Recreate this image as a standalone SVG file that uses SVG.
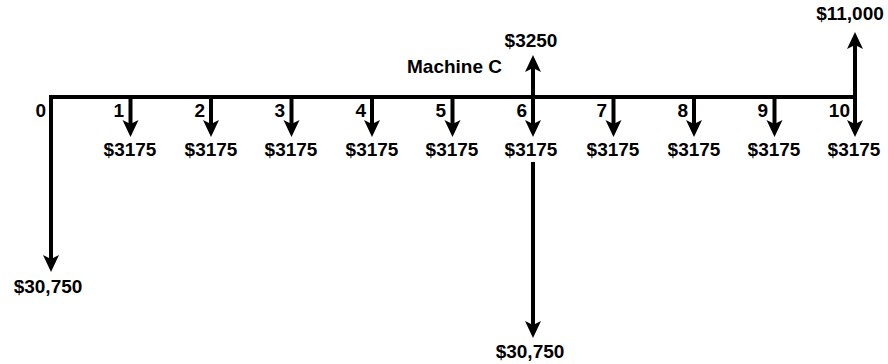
<svg xmlns="http://www.w3.org/2000/svg" width="888" height="364" viewBox="0 0 888 364">
<style>
.ln{stroke:#000;stroke-width:4;fill:none}
.ar{stroke:#000;stroke-width:4;fill:none;marker-end:url(#ah)}
text{font-family:"Liberation Sans",Arial,sans-serif;font-weight:bold;font-size:19px;fill:#000}
.m{text-anchor:middle}
.e{text-anchor:end}
</style>
<defs>
<marker id="ah" markerUnits="userSpaceOnUse" markerWidth="20" markerHeight="20" viewBox="0 0 20 20" refX="7" refY="9" orient="auto">
<path d="M0,1 L17,9 L0,17 L4,9 z" fill="#000"/>
</marker>
</defs>
<g id="connectors">
<path class="ln" d="M49,97 H857"/>
<path class="ar" d="M51,97 V262"/>
<path class="ar" d="M130.5,97 V127"/>
<path class="ar" d="M211,97 V127"/>
<path class="ar" d="M291.5,97 V127"/>
<path class="ar" d="M372,97 V127"/>
<path class="ar" d="M452.5,97 V127"/>
<path class="ar" d="M533,97 V127"/>
<path class="ar" d="M613.5,97 V127"/>
<path class="ar" d="M694,97 V127"/>
<path class="ar" d="M774.5,97 V127"/>
<path class="ar" d="M855,97 V127"/>
<path class="ar" d="M533,97 V65"/>
<path class="ar" d="M855,99 V42"/>
<path class="ar" d="M533,162 V328"/>
</g>
<g id="title"><text x="407" y="73">Machine C</text></g>
<g id="p0"><text class="e" x="46" y="117">0</text><text class="m" x="48" y="293">$30,750</text></g>
<g id="p1"><text class="e" x="124" y="117">1</text><text class="m" x="130" y="156">$3175</text></g>
<g id="p2"><text class="e" x="205" y="117">2</text><text class="m" x="211" y="156">$3175</text></g>
<g id="p3"><text class="e" x="285" y="117">3</text><text class="m" x="291" y="156">$3175</text></g>
<g id="p4"><text class="e" x="366" y="117">4</text><text class="m" x="372" y="156">$3175</text></g>
<g id="p5"><text class="e" x="446" y="117">5</text><text class="m" x="452" y="156">$3175</text></g>
<g id="p6"><text class="e" x="527" y="117">6</text><text class="m" x="531" y="156">$3175</text><text class="m" x="531" y="47">$3250</text><text class="m" x="530" y="358">$30,750</text></g>
<g id="p7"><text class="e" x="607" y="117">7</text><text class="m" x="613" y="156">$3175</text></g>
<g id="p8"><text class="e" x="688" y="117">8</text><text class="m" x="694" y="156">$3175</text></g>
<g id="p9"><text class="e" x="768" y="117">9</text><text class="m" x="774" y="156">$3175</text></g>
<g id="p10"><text class="e" x="850" y="117">10</text><text class="m" x="854" y="156">$3175</text><text class="m" x="850" y="20">$11,000</text></g>
</svg>
